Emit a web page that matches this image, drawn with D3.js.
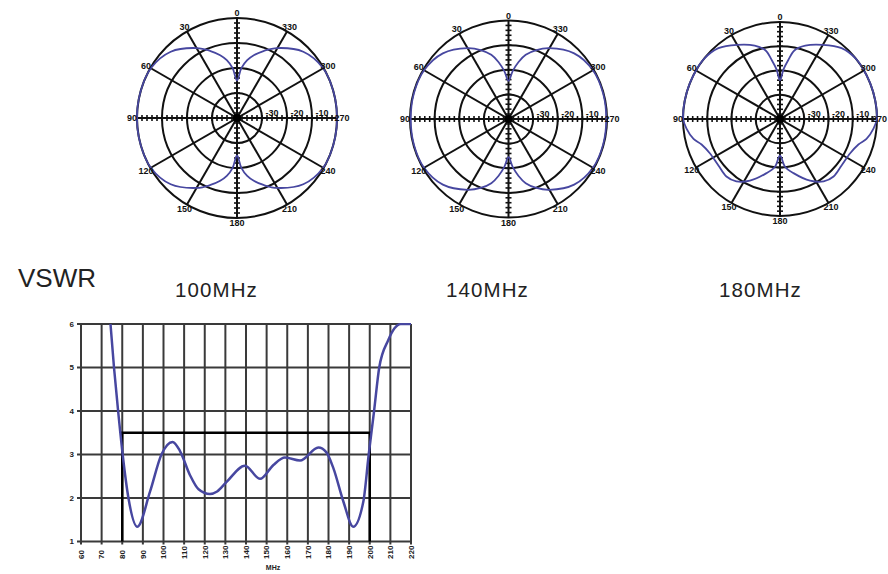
<!DOCTYPE html>
<html>
<head>
<meta charset="utf-8">
<script src="https://cdn.jsdelivr.net/npm/d3@7"></script>
<style>
  body { margin: 0; background: #fff; }
  svg { display: block; background: #fff; }
</style>
</head>
<body>
<svg id="vis" width="888" height="574"></svg>
<script>
// VSWR curve (MHz -> VSWR)
let vswrFreq = [74.3, 76, 78, 80.2, 83, 87.3, 93.5, 99, 104.4, 108, 112.8, 117, 122.5, 126, 130.6, 139.5, 146.8, 153.3, 158.9, 166.2, 175.1, 179, 182.4, 187.2, 192, 196.9, 199.5, 202.1, 204.6, 209, 212, 215, 220];
let vswrValue = [6.0, 5.0, 4.0, 3.0, 2.0, 1.34, 2.15, 3.0, 3.29, 3.08, 2.53, 2.2, 2.09, 2.15, 2.37, 2.74, 2.44, 2.76, 2.93, 2.86, 3.16, 3.05, 2.68, 1.92, 1.34, 1.92, 3.0, 4.0, 5.0, 5.63, 5.9, 6.0, 6.0];
let vswrLimit = 3.5;
let bandEdges = [80, 200];
let xTickValues = [60, 70, 80, 90, 100, 110, 120, 130, 140, 150, 160, 170, 180, 190, 200, 210, 220];
let yTickValues = [1, 2, 3, 4, 5, 6];

// polar grid
let ringDb = [-30, -20, -10, 0];
let ringLabels = ["-30", "-20", "-10"];
let spokeAngles = [0, 30, 60, 90, 120, 150, 180, 210, 240, 270, 300, 330];

// radiation patterns: [angle (deg, counter-clockwise from top), level dB]
let pattern100 = [[0, -25], [5, -20], [10, -16.5], [15, -14], [22, -11], [30, -7.7], [45, -2.5], [60, -0.2], [75, 0], [90, 0], [105, 0], [120, -0.2], [135, -2.5], [150, -7.7], [158, -11], [165, -14], [170, -16.5], [175, -20],
    [180, -25], [185, -20], [190, -16.5], [195, -14], [202, -11], [210, -7.7], [225, -2.5], [240, -0.2], [255, 0], [270, 0], [285, 0], [300, -0.2], [315, -2.5], [330, -7.7], [338, -11], [345, -14], [350, -16.5], [355, -20]];
let pattern140 = [[0, -24.5], [5, -20.5], [10, -16.5], [15, -13], [22, -9.8], [30, -6.8], [45, -2.3], [60, -0.4], [75, -0.2], [90, -0.3], [105, -0.2], [120, -0.4], [135, -2.3], [150, -6.8], [158, -9.8], [165, -13], [170, -16.5], [175, -20.5],
    [180, -24.5], [185, -20.5], [190, -16.5], [195, -13], [202, -9.8], [210, -6.8], [225, -2.3], [240, -0.4], [255, -0.2], [270, -0.3], [285, -0.2], [300, -0.4], [315, -2.3], [330, -6.8], [338, -9.8], [345, -13], [350, -16.5], [355, -20.5]];
let pattern180 = [[0, -24], [4, -19.5], [8, -15.4], [12, -11], [19, -8], [30, -4.7], [41, -1.3], [52, 0], [61, 0], [74, 0], [90, -0.1], [96, -1.3], [103, -3.4], [108, -6.0], [116, -7.8], [127, -8.2], [137, -7.6], [145, -8.6], [154, -11.7], [166, -17], [174, -20.2],
    [180, -24.9], [186, -20.2], [194, -17], [206, -11.7], [215, -8.6], [223, -7.6], [233, -8.2], [244, -7.8], [252, -6.0], [257, -3.4], [264, -1.3], [270, -0.1], [286, 0], [299, 0], [308, 0], [319, -1.3], [330, -4.7], [341, -8], [348, -11], [352, -15.4], [356, -19.5]];

let polarTitles = ["100MHz", "140MHz", "180MHz"];

let svg = d3.select("#vis");
let blue = "#4747a0";
let font = "Liberation Sans, Arial, sans-serif";

// ---------- polar plots ----------
let polars = [
    {pattern: pattern100, cx: 237, cy: 118, R: 100, title: polarTitles[0], tx: 175},
    {pattern: pattern140, cx: 508.5, cy: 119, R: 98.5, title: polarTitles[1], tx: 446},
    {pattern: pattern180, cx: 780, cy: 119, R: 97, title: polarTitles[2], tx: 719}
];

function drawPolar(p) {
    let g = svg.append("g").attr("transform", "translate(" + p.cx + "," + p.cy + ")");
    let r = d3.scaleLinear().domain([-40, 0]).range([0, p.R]);

    g.selectAll("circle.ring")
        .data(ringDb)
        .join("circle")
        .attr("class", "ring")
        .attr("r", d => r(d))
        .attr("fill", "none")
        .attr("stroke", "#111")
        .attr("stroke-width", 2);

    // diameters every 30 degrees
    g.selectAll("line.spoke")
        .data(spokeAngles.filter(a => a < 180))
        .join("line")
        .attr("class", "spoke")
        .attr("x1", a => -p.R * Math.sin(a * Math.PI / 180))
        .attr("y1", a => -p.R * Math.cos(a * Math.PI / 180))
        .attr("x2", a => p.R * Math.sin(a * Math.PI / 180))
        .attr("y2", a => p.R * Math.cos(a * Math.PI / 180))
        .attr("stroke", "#111")
        .attr("stroke-width", 2);

    // ruler ticks along the vertical and horizontal diameters, every 2 dB
    let tickDb = d3.range(-38, 0, 2);
    let ticks = [];
    tickDb.forEach(d => {
        [1, -1].forEach(s => {
            ticks.push({x1: -3, y1: s * r(d), x2: 3, y2: s * r(d)});
            ticks.push({x1: s * r(d), y1: -3, x2: s * r(d), y2: 3});
        });
    });
    g.selectAll("line.tick")
        .data(ticks)
        .join("line")
        .attr("class", "tick")
        .attr("x1", d => d.x1).attr("y1", d => d.y1)
        .attr("x2", d => d.x2).attr("y2", d => d.y2)
        .attr("stroke", "#111")
        .attr("stroke-width", 1.6);

    g.append("circle").attr("r", 4).attr("fill", "#000");

    let line = d3.lineRadial()
        .angle(d => -d[0] * Math.PI / 180)
        .radius(d => r(d[1]))
        .curve(d3.curveCatmullRomClosed.alpha(0.5));
    g.append("path")
        .attr("d", line(p.pattern))
        .attr("fill", "none")
        .attr("stroke", blue)
        .attr("stroke-width", 1.8);

    g.selectAll("text.ringlab")
        .data(ringLabels)
        .join("text")
        .attr("class", "ringlab")
        .attr("x", d => r(+d) + 10)
        .attr("y", -2)
        .attr("text-anchor", "middle")
        .attr("font-family", font)
        .attr("font-weight", "bold")
        .attr("font-size", 9)
        .attr("fill", "#111")
        .text(d => d);

    g.selectAll("text.anglab")
        .data(spokeAngles)
        .join("text")
        .attr("class", "anglab")
        .attr("x", a => -(p.R + 5) * Math.sin(a * Math.PI / 180))
        .attr("y", a => -(p.R + 5) * Math.cos(a * Math.PI / 180))
        .attr("text-anchor", "middle")
        .attr("dominant-baseline", "central")
        .attr("font-family", font)
        .attr("font-weight", "bold")
        .attr("font-size", 9)
        .attr("fill", "#111")
        .text(a => a)
        .each(function () {
            // keep labels inside the page
            let bb = this.getBBox();
            let over = p.cx + bb.x + bb.width - 887;
            if (over > 0) d3.select(this).attr("x", +d3.select(this).attr("x") - over);
        });

    svg.append("text")
        .attr("x", p.tx)
        .attr("y", 297)
        .attr("font-family", font)
        .attr("font-size", 20.5)
        .attr("letter-spacing", 1.1)
        .attr("fill", "#222")
        .text(p.title);
}

polars.forEach(drawPolar);

svg.append("text")
    .attr("x", 18)
    .attr("y", 287)
    .attr("font-family", font)
    .attr("font-size", 26)
    .attr("fill", "#222")
    .text("VSWR");

// ---------- VSWR chart ----------
let x = d3.scaleLinear().domain([60, 220]).range([81, 411]);
let y = d3.scaleLinear().domain([1, 6]).range([541.5, 324]);
let grid = svg.append("g");

grid.selectAll("line.hgrid")
    .data(yTickValues)
    .join("line")
    .attr("class", "hgrid")
    .attr("x1", x(60) - 4).attr("x2", x(220))
    .attr("y1", d => y(d)).attr("y2", d => y(d))
    .attr("stroke", "#3a3a3a")
    .attr("stroke-width", 2);

grid.selectAll("line.vgrid")
    .data(xTickValues)
    .join("line")
    .attr("class", "vgrid")
    .attr("x1", d => x(d)).attr("x2", d => x(d))
    .attr("y1", y(6)).attr("y2", y(1) + 3)
    .attr("stroke", "#3a3a3a")
    .attr("stroke-width", 2);

grid.selectAll("text.ylab")
    .data(yTickValues)
    .join("text")
    .attr("class", "ylab")
    .attr("x", x(60) - 7)
    .attr("y", d => y(d))
    .attr("dy", "0.35em")
    .attr("text-anchor", "end")
    .attr("font-family", font)
    .attr("font-weight", "bold")
    .attr("font-size", 8)
    .attr("fill", "#222")
    .text(d => d);

grid.selectAll("text.xlab")
    .data(xTickValues)
    .join("text")
    .attr("class", "xlab")
    .attr("transform", d => "translate(" + x(d) + "," + 559 + ") rotate(-90)")
    .attr("dy", "0.35em")
    .attr("text-anchor", "start")
    .attr("font-family", font)
    .attr("font-weight", "bold")
    .attr("font-size", 8)
    .attr("fill", "#222")
    .text(d => d);

svg.append("text")
    .attr("x", 273)
    .attr("y", 570)
    .attr("text-anchor", "middle")
    .attr("font-family", font)
    .attr("font-weight", "bold")
    .attr("font-size", 7)
    .attr("fill", "#222")
    .text("MHz");

// pass band limit
let limit = [[bandEdges[0], 1], [bandEdges[0], vswrLimit], [bandEdges[1], vswrLimit], [bandEdges[1], 1]];
svg.append("path")
    .attr("d", d3.line().x(d => x(d[0])).y(d => y(d[1]))(limit))
    .attr("fill", "none")
    .attr("stroke", "#000")
    .attr("stroke-width", 2.5);

svg.append("clipPath").attr("id", "plotclip")
    .append("rect")
    .attr("x", x(60)).attr("y", y(6) - 1)
    .attr("width", x(220) - x(60) + 2).attr("height", y(1) - y(6) + 2);

let vswr = vswrFreq.map((f, i) => [f, vswrValue[i]]);
svg.append("path")
    .attr("clip-path", "url(#plotclip)")
    .attr("d", d3.line().x(d => x(d[0])).y(d => y(d[1])).curve(d3.curveMonotoneX)(vswr))
    .attr("fill", "none")
    .attr("stroke", blue)
    .attr("stroke-width", 2.5);
</script>
</body>
</html>
